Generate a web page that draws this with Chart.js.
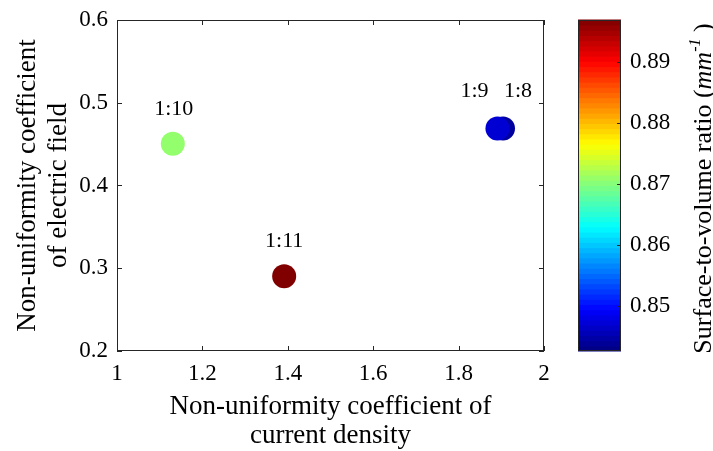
<!DOCTYPE html>
<html><head><meta charset="utf-8">
<script src="https://cdn.jsdelivr.net/npm/chart.js@4/dist/chart.umd.min.js"></script>
<style>html,body{margin:0;padding:0;background:#fff}#wrap{width:713px;height:451px;position:relative}</style>
</head><body><div id="wrap"><canvas id="c"></canvas></div>
<script>
// ---- data ----
const pointLabels = ['1:11', '1:10', '1:8', '1:9'];
const currentDensityCoef = [1.3915, 1.1307, 1.904, 1.891];
const electricFieldCoef = [0.2903, 0.4504, 0.469, 0.469];
const surfaceToVolume = [0.8969, 0.8708, 0.8443, 0.8470];
const xTicks = [1, 1.2, 1.4, 1.6, 1.8, 2];
const xTickLabels = ['1', '1.2', '1.4', '1.6', '1.8', '2'];
const yTicks = [0.2, 0.3, 0.4, 0.5, 0.6];
const yTickLabels = ['0.2', '0.3', '0.4', '0.5', '0.6'];
const cbTicks = [0.85, 0.86, 0.87, 0.88, 0.89];
const cbTickLabels = ['0.85', '0.86', '0.87', '0.88', '0.89'];
const cbRange = [0.8426, 0.8969];
const xRange = [1, 2];
const yRange = [0.2, 0.6];

// ---- style ----
const FONT = "'Liberation Serif', 'Times New Roman', serif";
const INK = '#262626';
const TICK_SIZE = 23;
const TITLE_SIZE = 27;
const labelOffsets = {'1:11': [0, -35], '1:10': [1, -35], '1:8': [15, -37], '1:9': [-23, -37]};

function jet(t) {
  t = Math.max(0, Math.min(1, t));
  const c = v => Math.round(255 * Math.max(0, Math.min(1, v)));
  return 'rgb(' + c(Math.min(4 * t - 1.5, -4 * t + 4.5)) + ',' + c(Math.min(4 * t - 0.5, -4 * t + 3.5)) + ',' + c(Math.min(4 * t + 0.5, -4 * t + 2.5)) + ')';
}
const norm = v => (v - cbRange[0]) / (cbRange[1] - cbRange[0]);

const points = currentDensityCoef.map((x, i) => ({x: x, y: electricFieldCoef[i]}));
const colors = surfaceToVolume.map(v => jet(norm(v)));

const noPad = s => { s.paddingTop = 0; s.paddingBottom = 0; s.paddingLeft = 0; s.paddingRight = 0; };

const decor = {
  id: 'decor',
  afterDraw(chart) {
    const ctx = chart.ctx;
    const {left, right, top, bottom} = chart.chartArea;
    const xs = chart.scales.x, ys = chart.scales.y, cb = chart.scales.cb;
    ctx.save();
    // frame
    ctx.strokeStyle = INK; ctx.lineWidth = 1;
    ctx.strokeRect(left + 0.5, top + 0.5, right - left - 1, bottom - top - 1);
    const TL = 5;
    ctx.beginPath();
    xTicks.forEach(v => {
      const px = Math.round(xs.getPixelForValue(v)) + 0.5;
      ctx.moveTo(px, bottom); ctx.lineTo(px, bottom - TL);
      ctx.moveTo(px, top); ctx.lineTo(px, top + TL);
    });
    yTicks.forEach(v => {
      const py = Math.round(ys.getPixelForValue(v)) + 0.5;
      ctx.moveTo(left, py); ctx.lineTo(left + TL, py);
      ctx.moveTo(right, py); ctx.lineTo(right - TL, py);
    });
    ctx.stroke();

    // point labels
    const meta = chart.getDatasetMeta(0);
    ctx.fillStyle = '#000';
    ctx.font = '22px ' + FONT;
    ctx.textAlign = 'center'; ctx.textBaseline = 'middle';
    meta.data.forEach((el, i) => {
      const off = labelOffsets[pointLabels[i]] || [0, -35];
      ctx.fillText(pointLabels[i], el.x + off[0], el.y + off[1]);
    });

    // colorbar
    const cx0 = 578, cx1 = 621;
    const cyTop = cb.getPixelForValue(cbRange[1]);
    const cyBot = cb.getPixelForValue(cbRange[0]);
    const N = 64;
    for (let k = 0; k < N; k++) {
      const y0 = cyBot - (cyBot - cyTop) * (k / N);
      const y1 = cyBot - (cyBot - cyTop) * ((k + 1) / N);
      ctx.fillStyle = jet((k + 0.5) / N);
      ctx.fillRect(cx0, y1 - 0.5, cx1 - cx0, y0 - y1 + 1);
    }
    ctx.strokeStyle = INK;
    ctx.strokeRect(cx0 + 0.5, cyTop + 0.5, cx1 - cx0 - 1, cyBot - cyTop - 1);
    ctx.beginPath();
    cbTicks.forEach(v => {
      const py = Math.round(cb.getPixelForValue(v)) + 0.5;
      ctx.moveTo(cx1, py); ctx.lineTo(cx1 - 4, py);
    });
    ctx.stroke();

    // colorbar title
    ctx.fillStyle = '#000';
    ctx.translate(711, (cyTop + cyBot) / 2 + 3);
    ctx.rotate(-Math.PI / 2);
    ctx.textAlign = 'left'; ctx.textBaseline = 'alphabetic';
    const fN = '26px ' + FONT, fI = 'italic 26px ' + FONT, fS = 'italic 16px ' + FONT;
    const parts = [['Surface-to-volume ratio (', fN, 0], ['mm', fI, 0], ['-1', fS, -11], [' )', fN, 0]];
    let total = 0;
    parts.forEach(p => { ctx.font = p[1]; total += ctx.measureText(p[0]).width; });
    let x = -total / 2;
    parts.forEach(p => { ctx.font = p[1]; ctx.fillText(p[0], x, p[2]); x += ctx.measureText(p[0]).width; });
    ctx.restore();
  }
};

new Chart(document.getElementById('c'), {
  type: 'scatter',
  data: {
    datasets: [{
      data: points,
      backgroundColor: colors,
      borderColor: colors,
      borderWidth: 0,
      pointRadius: 12,
      pointHoverRadius: 12
    }]
  },
  options: {
    responsive: true,
    maintainAspectRatio: false,
    animation: false,
    devicePixelRatio: 1,
    layout: {padding: {top: 20, left: 0, right: 0, bottom: 0}},
    plugins: {legend: {display: false}, tooltip: {enabled: false}},
    scales: {
      x: {
        type: 'linear', min: xRange[0], max: xRange[1],
        grid: {display: false, drawTicks: false}, border: {display: false},
        afterBuildTicks: s => { s.ticks = xTicks.map(v => ({value: v})); },
        ticks: {color: '#000', padding: 9, font: {family: FONT, size: TICK_SIZE}, callback: (v, i) => xTickLabels[i], maxRotation: 0, autoSkip: false},
        title: {display: true, text: ['Non-uniformity coefficient of', 'current density'], color: '#000', font: {family: FONT, size: TITLE_SIZE, lineHeight: '29px'}, padding: {top: 0, bottom: 1}},
        afterFit: s => { s.height = 100; noPad(s); }
      },
      y: {
        type: 'linear', min: yRange[0], max: yRange[1],
        grid: {display: false, drawTicks: false}, border: {display: false},
        afterBuildTicks: s => { s.ticks = yTicks.map(v => ({value: v})); },
        ticks: {color: '#000', padding: 9, font: {family: FONT, size: TICK_SIZE}, callback: (v, i) => yTickLabels[i], autoSkip: false},
        title: {display: true, text: ['Non-uniformity coefficient', 'of electric field'], color: '#000', font: {family: FONT, size: TITLE_SIZE, lineHeight: '31px'}, padding: {top: 12, bottom: 0}},
        afterFit: s => { s.width = 117; noPad(s); }
      },
      cb: {
        type: 'linear', axis: 'y', position: 'right', min: cbRange[0], max: cbRange[1],
        grid: {display: false, drawTicks: false}, border: {display: false},
        afterBuildTicks: s => { s.ticks = cbTicks.map(v => ({value: v})); },
        ticks: {color: '#000', padding: 86, font: {family: FONT, size: TICK_SIZE}, callback: (v, i) => cbTickLabels[i], autoSkip: false},
        afterFit: s => { s.width = 169; noPad(s); }
      }
    }
  },
  plugins: [decor]
});
</script>
</body></html>
